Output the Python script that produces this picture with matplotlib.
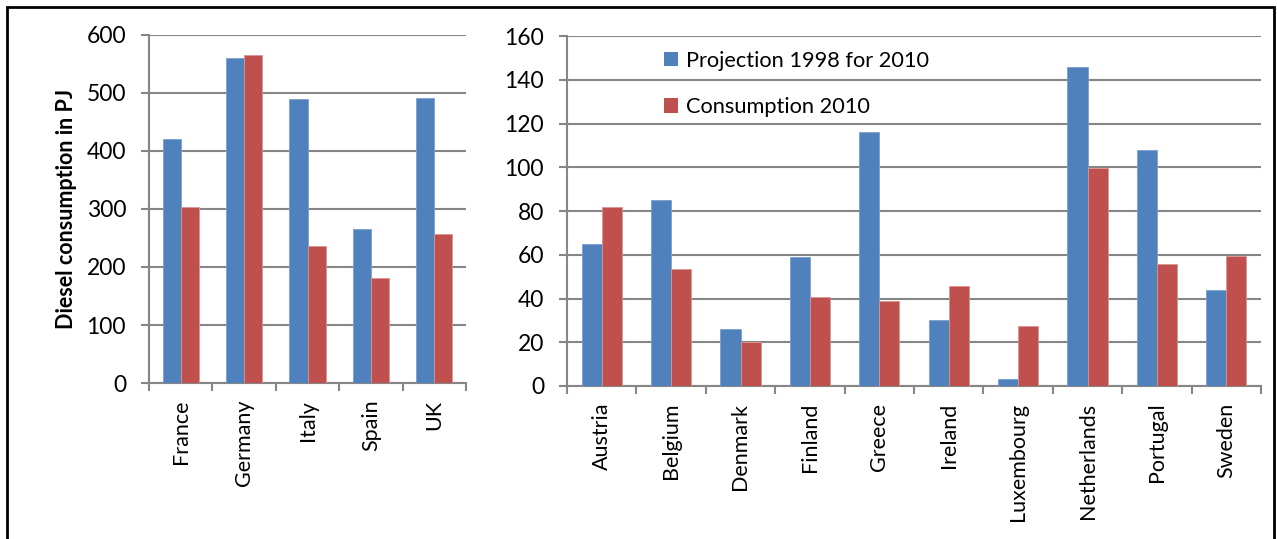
import matplotlib
matplotlib.use("Agg")
import matplotlib.pyplot as plt
from matplotlib.patches import Rectangle, Patch
import numpy as np

plt.rcParams['font.family'] = ['Lato', 'DejaVu Sans']

big_countries = ["France", "Germany", "Italy", "Spain", "UK"]
big_projection = [420, 560, 490, 265, 492]
big_consumption = [303, 565, 237, 181, 257]

small_countries = ["Austria", "Belgium", "Denmark", "Finland", "Greece",
                   "Ireland", "Luxembourg", "Netherlands", "Portugal", "Sweden"]
small_projection = [65, 85, 26, 59, 116, 30, 3, 146, 108, 44]
small_consumption = [82, 53.5, 20, 40.5, 39, 45.5, 27.5, 99.5, 56, 59.5]

series_labels = ["Projection 1998 for 2010", "Consumption 2010"]
blue = "#4F81BD"
red = "#C0504D"
grid_c = "#868686"

W, H = 1277, 539
fig = plt.figure(figsize=(W / 100, H / 100), dpi=100)

ax1 = fig.add_axes([149 / W, 156 / H, 317 / W, 348 / H])
ax2 = fig.add_axes([567 / W, 153 / H, 694 / W, 350 / H])

def draw(ax, cats, p, c, ymax, step, bw):
    x = np.arange(len(cats))
    b1 = ax.bar(x - bw / 2, p, bw, color=blue, edgecolor="#7BA0CD", linewidth=0.6, zorder=3)
    b2 = ax.bar(x + bw / 2, c, bw, color=red, edgecolor="#D99694", linewidth=0.6, zorder=3)
    ax.set_xlim(-0.5, len(cats) - 0.5)
    ax.set_ylim(0, ymax)
    ax.set_yticks(np.arange(0, ymax + 1, step))
    ax.yaxis.grid(True, color=grid_c, linewidth=1.5, zorder=0)
    ax.set_axisbelow(True)
    for s in ["top", "right"]:
        ax.spines[s].set_visible(False)
    for s in ["left", "bottom"]:
        ax.spines[s].set_color(grid_c)
        ax.spines[s].set_linewidth(1.5)
    ax.set_xticks(x)
    ax.set_xticklabels(cats, rotation=90, fontsize=15.5, va="top", ha="center")
    ax.set_xticks(np.arange(-0.5, len(cats)), minor=True)
    ax.tick_params(axis="x", which="major", length=0, pad=12)
    ax.tick_params(axis="x", which="minor", length=5.5, width=1.5, color=grid_c, direction="out")
    ax.tick_params(axis="y", length=5.5, width=1.5, color=grid_c, pad=11, labelsize=16.5)
    return b1, b2

draw(ax1, big_countries, big_projection, big_consumption, 600, 100, 0.285)
b1, b2 = draw(ax2, small_countries, small_projection, small_consumption, 160, 20, 0.29)

ax1.set_ylabel("Diesel consumption in PJ", fontsize=15.5, fontweight="bold", labelpad=7)

handles = [Patch(facecolor=blue, edgecolor="none"), Patch(facecolor=red, edgecolor="none")]
ax2.legend(handles, series_labels, loc="upper left", bbox_to_anchor=(0.127, 0.983),
           frameon=False, fontsize=15.7, handlelength=0.66, handleheight=0.66,
           handletextpad=0.35, labelspacing=1.2, borderaxespad=0)

fig.patches.append(Rectangle((7 / W, -0.1), 1267 / W, (H - 7) / H + 0.1,
                             transform=fig.transFigure, fill=False,
                             edgecolor="black", linewidth=2, clip_on=False))

fig.savefig("out.png", dpi=100)
